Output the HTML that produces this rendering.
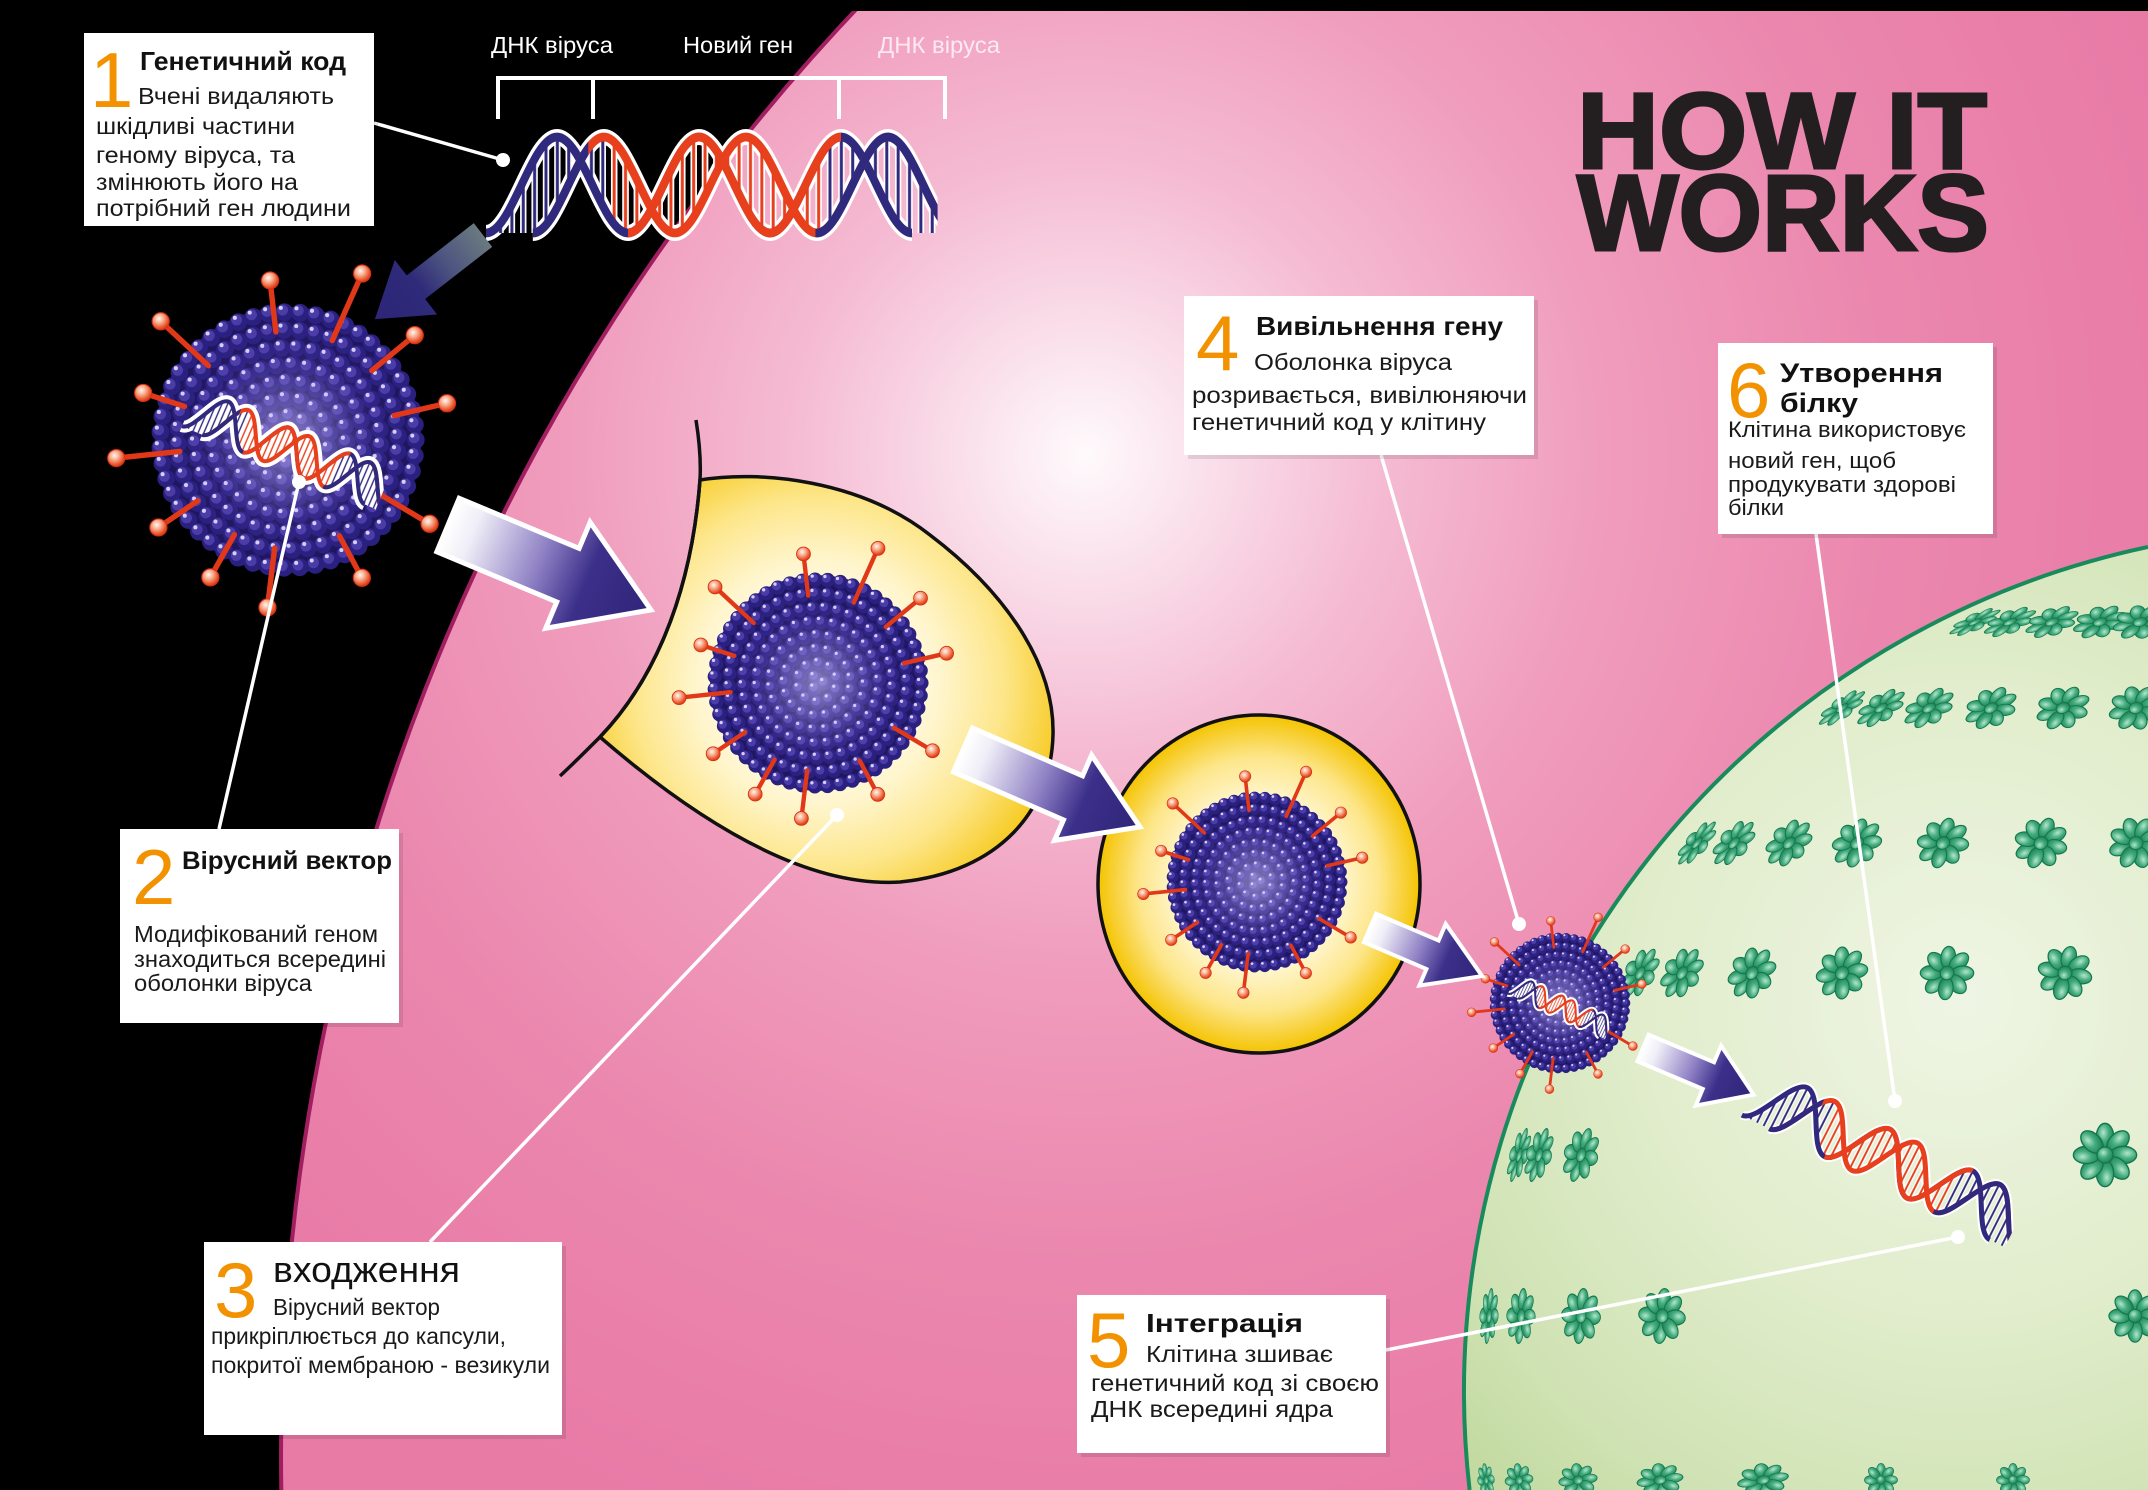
<!DOCTYPE html>
<html><head><meta charset="utf-8">
<style>
html,body{margin:0;padding:0;background:#000;width:2148px;height:1490px;overflow:hidden;}
#wrap{position:relative;width:2148px;height:1490px;overflow:hidden;}
svg{display:block}
.r0{fill:none;stroke:#2a2080;stroke-width:13;stroke-linecap:round}
.r1{fill:none;stroke:#4b3ca8;stroke-width:8;stroke-linecap:round}
.r2{fill:none;stroke:#d9d2fa;stroke-width:3;stroke-linecap:round}
.tx{font-family:"Liberation Sans","DejaVu Sans",sans-serif;fill:#1a1a1a;font-size:23px}
.hd{font-family:"Liberation Sans","DejaVu Sans",sans-serif;font-weight:bold;font-size:26px;fill:#111}
.num{font-family:"Liberation Sans","DejaVu Sans",sans-serif;font-size:78px;fill:#f39200}
.lab{font-family:"Liberation Sans","DejaVu Sans",sans-serif;font-size:23px;fill:#fff}
.pl{stroke:#fff;stroke-width:3.5;fill:none}
</style></head>
<body>
<div id="wrap">
<svg width="2148" height="1490" viewBox="0 0 2148 1490" xmlns="http://www.w3.org/2000/svg" overflow="hidden">
<defs>
  <radialGradient id="pinkG" gradientUnits="userSpaceOnUse" cx="1085" cy="455" r="1150">
    <stop offset="0" stop-color="#fefafc"/>
    <stop offset="0.08" stop-color="#fbe6ef"/>
    <stop offset="0.25" stop-color="#f5bcd3"/>
    <stop offset="0.45" stop-color="#f09cbd"/>
    <stop offset="0.7" stop-color="#eb87ae"/>
    <stop offset="1" stop-color="#e87aa6"/>
  </radialGradient>
  <radialGradient id="nucG" gradientUnits="userSpaceOnUse" cx="1960" cy="1000" r="700">
    <stop offset="0" stop-color="#eff5e4"/>
    <stop offset="0.45" stop-color="#e1edcc"/>
    <stop offset="0.8" stop-color="#cfe2b3"/>
    <stop offset="1" stop-color="#c0d89c"/>
  </radialGradient>
  <clipPath id="nucClip"><path d="M2148,549 A862,862 0 0 0 1471.5,1490 L2148,1490 Z"/></clipPath>
  <radialGradient id="yel1" gradientUnits="userSpaceOnUse" cx="818" cy="683" r="265">
    <stop offset="0" stop-color="#fffef5"/>
    <stop offset="0.45" stop-color="#fff6d0"/>
    <stop offset="0.7" stop-color="#fde68a"/>
    <stop offset="0.88" stop-color="#f8d13a"/>
    <stop offset="1" stop-color="#f4c400"/>
  </radialGradient>
  <radialGradient id="yel2" cx="0.5" cy="0.5" r="0.5">
    <stop offset="0" stop-color="#fffef5"/>
    <stop offset="0.5" stop-color="#fff6d0"/>
    <stop offset="0.75" stop-color="#fde68a"/>
    <stop offset="0.9" stop-color="#f8d13a"/>
    <stop offset="1" stop-color="#f4c400"/>
  </radialGradient>
  <radialGradient id="vshine" gradientUnits="userSpaceOnUse" cx="0" cy="0" r="100">
    <stop offset="0" stop-color="#d7cdff" stop-opacity="0.55"/>
    <stop offset="0.35" stop-color="#beaff5" stop-opacity="0.28"/>
    <stop offset="0.65" stop-color="#9682e6" stop-opacity="0.05"/>
    <stop offset="1" stop-color="#000" stop-opacity="0"/>
  </radialGradient>
  <radialGradient id="sb" cx="0.4" cy="0.35" r="0.65">
    <stop offset="0" stop-color="#fff6ef"/>
    <stop offset="0.35" stop-color="#f9b79c"/>
    <stop offset="0.8" stop-color="#ea5a30"/>
    <stop offset="1" stop-color="#d9381a"/>
  </radialGradient>
  <radialGradient id="pg" cx="0.4" cy="0.35" r="0.7">
    <stop offset="0" stop-color="#b5e6cc"/>
    <stop offset="0.45" stop-color="#45ad80"/>
    <stop offset="1" stop-color="#1a7d52"/>
  </radialGradient>
  <linearGradient id="ag" x1="0" y1="0" x2="1" y2="0">
    <stop offset="0" stop-color="#ffffff"/>
    <stop offset="0.12" stop-color="#efedf7"/>
    <stop offset="0.45" stop-color="#8e80c4"/>
    <stop offset="0.68" stop-color="#3c2f8a"/>
    <stop offset="1" stop-color="#2e2578"/>
  </linearGradient>
  <linearGradient id="ag1" x1="0" y1="0" x2="1" y2="0">
    <stop offset="0" stop-color="#6a7a80"/>
    <stop offset="0.35" stop-color="#4b5380"/>
    <stop offset="0.6" stop-color="#2f2a7a"/>
    <stop offset="1" stop-color="#2e2578"/>
  </linearGradient>

  <path id="s1" d="M0,30 C18,30 32,-30 50,-30 C68,-30 82,30 100,30 C118,30 132,-30 150,-30 C168,-30 182,30 200,30 C218,30 232,-30 250,-30 C268,-30 282,30 300,30"/>
  <path id="s2" d="M33,30 C51,30 65,-30 83,-30 C101,-30 115,30 133,30 C151,30 165,-30 183,-30 C201,-30 215,30 233,30 C251,30 265,-30 283,-30 C301,-30 315,30 333,30"/>
  <path id="lensP" d="M0,30 C18,30 32,-30 50,-30 C68,-30 82,30 100,30 C118,30 132,-30 150,-30 C168,-30 182,30 200,30 C218,30 232,-30 250,-30 C268,-30 282,30 300,30 L333,30 C315,30 301,-30 283,-30 C265,-30 251,30 233,30 C215,30 201,-30 183,-30 C165,-30 151,30 133,30 C115,30 101,-30 83,-30 C65,-30 51,30 33,30 Z"/>
  <clipPath id="lensC"><use href="#lensP"/></clipPath>
  <clipPath id="hxEnd"><rect x="-20" y="-60" width="338" height="120"/></clipPath>
  <clipPath id="c1R"><rect x="100" y="-60" width="150" height="120"/></clipPath>
  <clipPath id="c2B"><rect x="-10" y="-60" width="82" height="120"/><rect x="232" y="-60" width="100" height="120"/></clipPath>
  <pattern id="hB" patternUnits="userSpaceOnUse" width="8" height="80" x="0" y="-40">
    <rect x="0" y="0" width="4.5" height="80" fill="#fff"/><rect x="1.2" y="0" width="2.1" height="80" fill="#302a7e"/>
  </pattern>
  <pattern id="hR" patternUnits="userSpaceOnUse" width="8" height="80" x="0" y="-40">
    <rect x="0" y="0" width="4.5" height="80" fill="#fff"/><rect x="1.2" y="0" width="2.1" height="80" fill="#e8401c"/>
  </pattern>

  <g id="hx" clip-path="url(#hxEnd)">
    <use href="#s1" fill="none" stroke="#fff" stroke-width="10"/>
    <use href="#s2" fill="none" stroke="#fff" stroke-width="10"/>
    <g clip-path="url(#lensC)">
      <rect x="0" y="-40" width="340" height="80" fill="url(#hB)"/>
      <rect x="86" y="-40" width="150" height="80" fill="url(#hR)"/>
    </g>
    <use href="#s1" fill="none" stroke="#302a7e" stroke-width="5.5"/>
    <use href="#s2" fill="none" stroke="#e8401c" stroke-width="5.5"/>
    <use href="#s1" fill="none" stroke="#e8401c" stroke-width="5.5" clip-path="url(#c1R)"/>
    <use href="#s2" fill="none" stroke="#302a7e" stroke-width="5.5" clip-path="url(#c2B)"/>
  </g>

  <g id="hxs" clip-path="url(#hxEnd)">
    <use href="#s1" fill="none" stroke="#fff" stroke-width="18"/>
    <use href="#s2" fill="none" stroke="#fff" stroke-width="18"/>
    <use href="#lensP" fill="#fff"/>
    <g clip-path="url(#lensC)">
      <rect x="0" y="-40" width="340" height="80" fill="url(#hB)"/>
      <rect x="86" y="-40" width="150" height="80" fill="url(#hR)"/>
    </g>
    <use href="#s1" fill="none" stroke="#302a7e" stroke-width="6"/>
    <use href="#s2" fill="none" stroke="#e8401c" stroke-width="6"/>
    <use href="#s1" fill="none" stroke="#e8401c" stroke-width="6" clip-path="url(#c1R)"/>
    <use href="#s2" fill="none" stroke="#302a7e" stroke-width="6" clip-path="url(#c2B)"/>
  </g>

  <g id="virus">
    <circle r="98" fill="#1f165e"/>
    <circle r="94" class="r0" stroke-dasharray="0 11.581"/>
    <circle r="94" class="r1" stroke-dasharray="0 11.581" transform="translate(-1.3 -1.6)"/>
    <circle r="94" class="r2" stroke-dasharray="0 11.581" transform="translate(-2.6 -3.2)"/>
    <circle r="81" class="r0" stroke-dasharray="0 11.567" transform="rotate(6)"/>
    <circle r="81" class="r1" stroke-dasharray="0 11.567" transform="translate(-1.3 -1.6) rotate(6)"/>
    <circle r="81" class="r2" stroke-dasharray="0 11.567" transform="translate(-2.6 -3.2) rotate(6)"/>
    <circle r="68" class="r0" stroke-dasharray="0 11.548" transform="rotate(3)"/>
    <circle r="68" class="r1" stroke-dasharray="0 11.548" transform="translate(-1.3 -1.6) rotate(3)"/>
    <circle r="68" class="r2" stroke-dasharray="0 11.548" transform="translate(-2.6 -3.2) rotate(3)"/>
    <circle r="55.5" class="r0" stroke-dasharray="0 11.624" transform="rotate(9)"/>
    <circle r="55.5" class="r1" stroke-dasharray="0 11.624" transform="translate(-1.3 -1.6) rotate(9)"/>
    <circle r="55.5" class="r2" stroke-dasharray="0 11.624" transform="translate(-2.6 -3.2) rotate(9)"/>
    <circle r="43" class="r0" stroke-dasharray="0 11.747" transform="rotate(2)"/>
    <circle r="43" class="r1" stroke-dasharray="0 11.747" transform="translate(-1.3 -1.6) rotate(2)"/>
    <circle r="43" class="r2" stroke-dasharray="0 11.747" transform="translate(-2.6 -3.2) rotate(2)"/>
    <circle r="30.5" class="r0" stroke-dasharray="0 11.273" transform="rotate(12)"/>
    <circle r="30.5" class="r1" stroke-dasharray="0 11.273" transform="translate(-1.3 -1.6) rotate(12)"/>
    <circle r="30.5" class="r2" stroke-dasharray="0 11.273" transform="translate(-2.6 -3.2) rotate(12)"/>
    <circle r="18" class="r0" stroke-dasharray="0 11.31" transform="rotate(20)"/>
    <circle r="18" class="r1" stroke-dasharray="0 11.31" transform="translate(-1.3 -1.6) rotate(20)"/>
    <circle r="18" class="r2" stroke-dasharray="0 11.31" transform="translate(-2.6 -3.2) rotate(20)"/>
    <circle r="6" class="r0" stroke-dasharray="0 12.566"/>
    <circle r="6" class="r1" stroke-dasharray="0 12.566" transform="translate(-1.3 -1.6)"/>
    <circle r="6" class="r2" stroke-dasharray="0 12.566" transform="translate(-2.6 -3.2)"/>
    <circle r="100" fill="url(#vshine)"/>
    <g stroke="#e2381a" stroke-width="4" stroke-linecap="round">
      <line x1="-13.2" y1="-117.3" x2="-8.9" y2="-79.5"/>
      <line x1="54.5" y1="-122.4" x2="32.5" y2="-73.1"/>
      <line x1="-93.6" y1="-87.3" x2="-58.5" y2="-54.6"/>
      <line x1="93.2" y1="-77.1" x2="61.6" y2="-51"/>
      <line x1="-106.5" y1="-34.6" x2="-76.1" y2="-24.7"/>
      <line x1="116.9" y1="-27" x2="78" y2="-18"/>
      <line x1="-126.3" y1="13.3" x2="-79.6" y2="8.4"/>
      <line x1="104.1" y1="61.6" x2="68.9" y2="40.7"/>
      <line x1="-95.3" y1="64.3" x2="-66.3" y2="44.7"/>
      <line x1="-57.1" y1="101" x2="-39.4" y2="69.6"/>
      <line x1="54.3" y1="101.3" x2="37.8" y2="70.5"/>
      <line x1="-15.1" y1="123.1" x2="-9.8" y2="79.4"/>
    </g>
    <g fill="url(#sb)" stroke="#d83010" stroke-width="0.8">
      <circle cx="-13.2" cy="-117.3" r="6.3"/>
      <circle cx="54.5" cy="-122.4" r="6.3"/>
      <circle cx="-93.6" cy="-87.3" r="6.3"/>
      <circle cx="93.2" cy="-77.1" r="6.3"/>
      <circle cx="-106.5" cy="-34.6" r="6.3"/>
      <circle cx="116.9" cy="-27" r="6.3"/>
      <circle cx="-126.3" cy="13.3" r="6.3"/>
      <circle cx="104.1" cy="61.6" r="6.3"/>
      <circle cx="-95.3" cy="64.3" r="6.3"/>
      <circle cx="-57.1" cy="101" r="6.3"/>
      <circle cx="54.3" cy="101.3" r="6.3"/>
      <circle cx="-15.1" cy="123.1" r="6.3"/>
    </g>
  </g>

  <g id="fl">
    <g fill="url(#pg)" stroke="#14774c" stroke-width="1.2">
      <ellipse cx="0" cy="-16" rx="7.5" ry="11.5"/>
      <ellipse cx="0" cy="-16" rx="7.5" ry="11.5" transform="rotate(45)"/>
      <ellipse cx="0" cy="-16" rx="7.5" ry="11.5" transform="rotate(90)"/>
      <ellipse cx="0" cy="-16" rx="7.5" ry="11.5" transform="rotate(135)"/>
      <ellipse cx="0" cy="-16" rx="7.5" ry="11.5" transform="rotate(180)"/>
      <ellipse cx="0" cy="-16" rx="7.5" ry="11.5" transform="rotate(225)"/>
      <ellipse cx="0" cy="-16" rx="7.5" ry="11.5" transform="rotate(270)"/>
      <ellipse cx="0" cy="-16" rx="7.5" ry="11.5" transform="rotate(315)"/>
      <circle r="7"/>
    </g>
  </g>
</defs>

<rect width="2148" height="1490" fill="#000"/>
<path d="M865,0 A2105,2105 0 0 0 281.3,1490 L2148,1490 L2148,0 Z" fill="url(#pinkG)"/>
<path d="M865,0 A2105,2105 0 0 0 281.3,1490" fill="none" stroke="#a11f60" stroke-width="4"/>

<!-- nucleus -->
<path d="M2148,547 A864,864 0 0 0 1469.6,1490 L2148,1490 Z" fill="url(#nucG)"/>
<g clip-path="url(#nucClip)">
  <use href="#fl" transform="translate(1975 622) rotate(-114.6) scale(0.31 1)"/>
  <use href="#fl" transform="translate(2010 622) rotate(-112.4) scale(0.41 1)"/>
  <use href="#fl" transform="translate(2052 622) rotate(-109.7) scale(0.49 1)"/>
  <use href="#fl" transform="translate(2100 622) rotate(-106.5) scale(0.55 1)"/>
  <use href="#fl" transform="translate(2140 622) rotate(-103.4) scale(0.6 1)"/>
  <use href="#fl" transform="translate(1842 708) rotate(-125.4) scale(0.37 1)"/>
  <use href="#fl" transform="translate(1881 708) rotate(-123.2) scale(0.49 1)"/>
  <use href="#fl" transform="translate(1929 708) rotate(-120.3) scale(0.59 1)"/>
  <use href="#fl" transform="translate(1991 708) rotate(-116.2) scale(0.68 1)"/>
  <use href="#fl" transform="translate(2063 708) rotate(-111.2) scale(0.75 1)"/>
  <use href="#fl" transform="translate(2136 708) rotate(-105.7) scale(0.79 1)"/>
  <use href="#fl" transform="translate(1697 843) rotate(-139) scale(0.39 1)"/>
  <use href="#fl" transform="translate(1734 843) rotate(-137.3) scale(0.53 1)"/>
  <use href="#fl" transform="translate(1789 843) rotate(-134.5) scale(0.66 1)"/>
  <use href="#fl" transform="translate(1857 843) rotate(-130.6) scale(0.77 1)"/>
  <use href="#fl" transform="translate(1943 843) rotate(-125) scale(0.85 1)"/>
  <use href="#fl" transform="translate(2041 843) rotate(-117.6) scale(0.9 1)"/>
  <use href="#fl" transform="translate(2136 843) rotate(-109) scale(0.93 1)"/>
  <use href="#fl" transform="translate(1640 973) rotate(-148.7) scale(0.55 1)"/>
  <use href="#fl" transform="translate(1682 973) rotate(-147) scale(0.66 1)"/>
  <use href="#fl" transform="translate(1752 973) rotate(-144) scale(0.79 1)"/>
  <use href="#fl" transform="translate(1842 973) rotate(-139.2) scale(0.88 1)"/>
  <use href="#fl" transform="translate(1947 973) rotate(-132.3) scale(0.94 1)"/>
  <use href="#fl" transform="translate(2065 973) rotate(-122) scale(0.97 1)"/>
  <use href="#fl" transform="translate(1519 1155) rotate(-163.7) scale(0.34 1)"/>
  <use href="#fl" transform="translate(1539 1155) rotate(-163.3) scale(0.46 1)"/>
  <use href="#fl" transform="translate(1581 1155) rotate(-162.4) scale(0.62 1)"/>
  <use href="#fl" transform="translate(2105 1155) scale(1.15)"/>
  <use href="#fl" transform="translate(1489 1316) rotate(-174.8) scale(0.34 1)"/>
  <use href="#fl" transform="translate(1521 1316) rotate(-174.6) scale(0.52 1)"/>
  <use href="#fl" transform="translate(1581 1316) rotate(-174.2) scale(0.71 1)"/>
  <use href="#fl" transform="translate(1662 1316) rotate(-173.5) scale(0.85 1)"/>
  <use href="#fl" transform="translate(2135 1316) scale(0.95)"/>
  <use href="#fl" transform="translate(1486 1480) rotate(173.7) scale(0.31 0.6)"/>
  <use href="#fl" transform="translate(1519 1480) rotate(173.4) scale(0.51 0.6)"/>
  <use href="#fl" transform="translate(1578 1480) rotate(172.9) scale(0.7 0.6)"/>
  <use href="#fl" transform="translate(1660 1480) rotate(172) scale(0.84 0.6)"/>
  <use href="#fl" transform="translate(1763 1480) rotate(170.7) scale(0.93 0.6)"/>
  <use href="#fl" transform="translate(1881 1480) scale(0.6)"/>
  <use href="#fl" transform="translate(2013 1480) scale(0.6)"/>
</g>
<path d="M2148,547 A864,864 0 0 0 1469.6,1490" fill="none" stroke="#188a5c" stroke-width="4"/>

<use href="#hx" transform="translate(1754 1091) rotate(26.7) scale(0.925 0.9)"/>

<!-- vesicle 1 -->
<path d="M700,480 C760,470 860,480 930,535 C1000,588 1055,660 1053,735 C1051,810 1000,872 900,882 C800,888 690,815 600,737 C645,690 690,610 700,480 Z" fill="url(#yel1)" stroke="#111" stroke-width="3.5"/>
<path d="M696,420 C700,445 701,462 700,480 C690,610 645,690 600,737 C585,752 573,764 560,776" fill="none" stroke="#111" stroke-width="3.5"/>

<!-- vesicle 2 -->
<ellipse cx="1259" cy="884" rx="161" ry="169" fill="url(#yel2)" stroke="#111" stroke-width="3.5"/>

<!-- viruses -->
<use href="#virus" transform="translate(288 440) scale(1.36)"/>
<use href="#hxs" transform="translate(288 440) scale(1.36) translate(-72 -24) rotate(23.2) scale(0.487 0.5)"/>
<use href="#virus" transform="translate(818 683) scale(1.1)"/>
<use href="#virus" transform="translate(1257 882) scale(0.9)"/>
<use href="#virus" transform="translate(1560 1003) scale(0.7)"/>
<use href="#hxs" transform="translate(1560 1003) scale(0.7) translate(-68 -27) rotate(25) scale(0.48 0.5)"/>

<!-- top DNA -->
<use href="#hx" transform="translate(486 185) scale(1.42 1.6)"/>
<path d="M498,119 V78 H945 V119 M593,78 V119 M839,78 V119" fill="none" stroke="#fff" stroke-width="4"/>
<text class="lab" x="491" y="53" textLength="122" lengthAdjust="spacingAndGlyphs">ДНК віруса</text>
<text class="lab" x="683" y="53" textLength="110" lengthAdjust="spacingAndGlyphs">Новий ген</text>
<text class="lab" x="878" y="53" textLength="122" lengthAdjust="spacingAndGlyphs" fill-opacity="0.75">ДНК віруса</text>

<!-- arrows -->
<polygon points="0,-15 85,-15 85,-34.5 137,0 85,34.5 85,15 0,15" fill="url(#ag1)" transform="translate(483 235) rotate(142.1)"/>
<polygon points="0,-29 130,-29 130,-57.5 220,0 130,57.5 130,29 0,29" fill="url(#ag)" stroke="#fff" stroke-width="5" transform="translate(448 525) rotate(22.7)"/>
<polygon points="0,-24 120,-24 120,-46.5 193,0 120,46.5 120,24 0,24" fill="url(#ag)" stroke="#fff" stroke-width="5" transform="translate(963 750) rotate(23.5)"/>
<polygon points="0,-15.5 68,-15.5 68,-33.5 122,0 68,33.5 68,15.5 0,15.5" fill="url(#ag)" stroke="#fff" stroke-width="4" transform="translate(1370 928) rotate(23.2)"/>
<polygon points="0,-14.5 71,-14.5 71,-32.5 120,0 71,32.5 71,14.5 0,14.5" fill="url(#ag)" stroke="#fff" stroke-width="4" transform="translate(1643 1048) rotate(22.9)"/>

<!-- pointer lines -->
<line class="pl" x1="374" y1="123" x2="503" y2="160"/>
<line class="pl" x1="299" y1="482" x2="219" y2="829"/>
<line class="pl" x1="837" y1="815" x2="430" y2="1242"/>
<line class="pl" x1="1381" y1="455" x2="1519" y2="924"/>
<line class="pl" x1="1386" y1="1350" x2="1958" y2="1237"/>
<line class="pl" x1="1816" y1="534" x2="1895" y2="1101"/>
<g fill="#fff">
  <circle cx="503" cy="160" r="7"/>
  <circle cx="299" cy="482" r="7"/>
  <circle cx="837" cy="815" r="7"/>
  <circle cx="1519" cy="924" r="7"/>
  <circle cx="1958" cy="1237" r="7"/>
  <circle cx="1895" cy="1101" r="7"/>
</g>

<!-- boxes -->
<g fill="#000" fill-opacity="0.1">
  <rect x="88" y="37" width="290" height="193"/>
  <rect x="124" y="833" width="279" height="194"/>
  <rect x="208" y="1246" width="358" height="193"/>
  <rect x="1188" y="300" width="350" height="159"/>
  <rect x="1081" y="1299" width="309" height="158"/>
  <rect x="1722" y="347" width="275" height="191"/>
</g>
<g fill="#fff">
  <rect x="84" y="33" width="290" height="193"/>
  <rect x="120" y="829" width="279" height="194"/>
  <rect x="204" y="1242" width="358" height="193"/>
  <rect x="1184" y="296" width="350" height="159"/>
  <rect x="1077" y="1295" width="309" height="158"/>
  <rect x="1718" y="343" width="275" height="191"/>
</g>

<text class="num" x="90" y="107">1</text>
<text class="hd" x="140" y="70" textLength="206" lengthAdjust="spacingAndGlyphs">Генетичний код</text>
<text class="tx" x="138" y="104" textLength="196" lengthAdjust="spacingAndGlyphs">Вчені видаляють</text>
<text class="tx" x="96" y="134" textLength="199" lengthAdjust="spacingAndGlyphs">шкідливі частини</text>
<text class="tx" x="96" y="163" textLength="199" lengthAdjust="spacingAndGlyphs">геному віруса, та</text>
<text class="tx" x="96" y="190" textLength="202" lengthAdjust="spacingAndGlyphs">змінюють його на</text>
<text class="tx" x="96" y="216" textLength="255" lengthAdjust="spacingAndGlyphs">потрібний ген людини</text>

<text class="num" x="132" y="904">2</text>
<text class="hd" x="182" y="869" textLength="210" lengthAdjust="spacingAndGlyphs" style="font-size:25px">Вірусний вектор</text>
<text class="tx" x="134" y="942" textLength="244" lengthAdjust="spacingAndGlyphs">Модифікований геном</text>
<text class="tx" x="134" y="967" textLength="252" lengthAdjust="spacingAndGlyphs">знаходиться всередині</text>
<text class="tx" x="134" y="991" textLength="178" lengthAdjust="spacingAndGlyphs">оболонки віруса</text>

<text class="num" x="214" y="1317">3</text>
<text class="tx" x="273" y="1282" textLength="187" lengthAdjust="spacingAndGlyphs" style="font-size:36px;fill:#111">входження</text>
<text class="tx" x="273" y="1315" textLength="167" lengthAdjust="spacingAndGlyphs">Вірусний вектор</text>
<text class="tx" x="211" y="1344" textLength="295" lengthAdjust="spacingAndGlyphs">прикріплюється до капсули,</text>
<text class="tx" x="211" y="1373" textLength="339" lengthAdjust="spacingAndGlyphs">покритої мембраною - везикули</text>

<text class="num" x="1196" y="370">4</text>
<text class="hd" x="1256" y="335" textLength="247" lengthAdjust="spacingAndGlyphs">Вивільнення гену</text>
<text class="tx" x="1254" y="370" textLength="198" lengthAdjust="spacingAndGlyphs">Оболонка віруса</text>
<text class="tx" x="1192" y="403" textLength="335" lengthAdjust="spacingAndGlyphs">розривається, вивілюняючи</text>
<text class="tx" x="1192" y="430" textLength="294" lengthAdjust="spacingAndGlyphs">генетичний код у клітину</text>

<text class="num" x="1087" y="1367">5</text>
<text class="hd" x="1146" y="1332" textLength="157" lengthAdjust="spacingAndGlyphs">Інтеграція</text>
<text class="tx" x="1146" y="1362" textLength="187" lengthAdjust="spacingAndGlyphs">Клітина зшиває</text>
<text class="tx" x="1091" y="1391" textLength="288" lengthAdjust="spacingAndGlyphs">генетичний код зі своєю</text>
<text class="tx" x="1091" y="1417" textLength="242" lengthAdjust="spacingAndGlyphs">ДНК всередині ядра</text>

<text class="num" x="1727" y="417">6</text>
<text class="hd" x="1780" y="382" textLength="163" lengthAdjust="spacingAndGlyphs" style="font-size:27px">Утворення</text>
<text class="hd" x="1780" y="412" textLength="78" lengthAdjust="spacingAndGlyphs" style="font-size:27px">білку</text>
<text class="tx" x="1728" y="437" textLength="238" lengthAdjust="spacingAndGlyphs" style="font-size:22px">Клітина використовує</text>
<text class="tx" x="1728" y="468" textLength="168" lengthAdjust="spacingAndGlyphs" style="font-size:22px">новий ген, щоб</text>
<text class="tx" x="1728" y="492" textLength="228" lengthAdjust="spacingAndGlyphs" style="font-size:22px">продукувати здорові</text>
<text class="tx" x="1728" y="515" textLength="56" lengthAdjust="spacingAndGlyphs" style="font-size:22px">білки</text>

<g font-family="'Liberation Sans','DejaVu Sans',sans-serif" font-weight="bold" font-size="108" fill="#231f20" stroke="#231f20" stroke-width="3" stroke-linejoin="miter">
  <text x="1577" y="168" textLength="410" lengthAdjust="spacingAndGlyphs">HOW IT</text>
  <text x="1577" y="250" textLength="412" lengthAdjust="spacingAndGlyphs">WORKS</text>
</g>
<circle cx="1731" cy="222" r="7" fill="#ee8db3"/>
<circle cx="1721" cy="231" r="4" fill="#ee8db3"/>

<rect x="0" y="0" width="2148" height="11" fill="#000"/>
</svg>
</div>
</body></html>
